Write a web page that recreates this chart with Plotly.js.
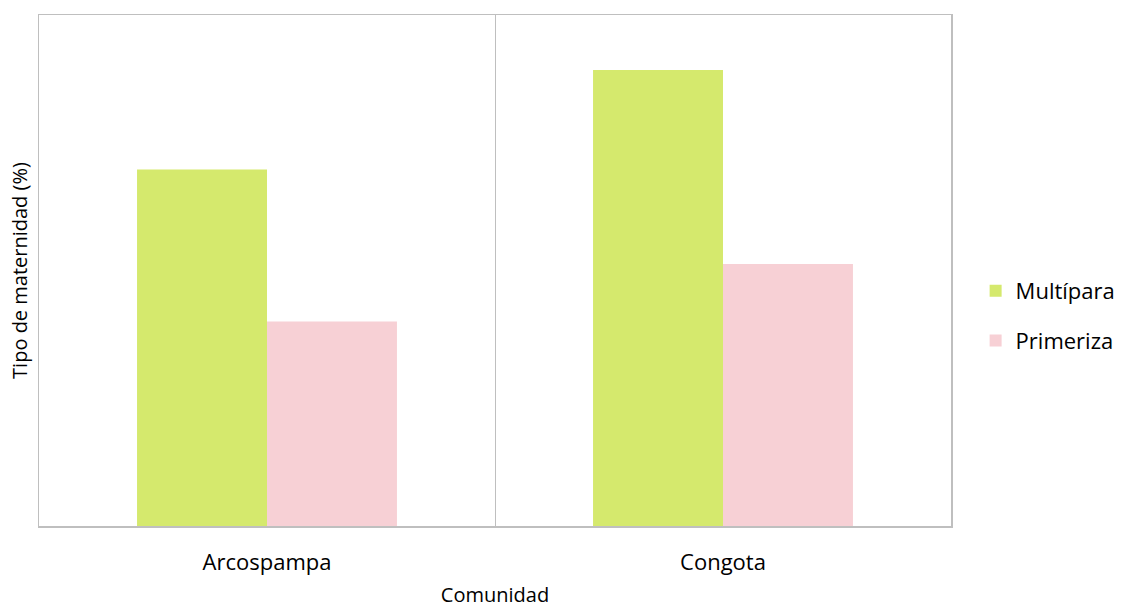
<!DOCTYPE html>
<html>
<head>
<meta charset="utf-8">
<script src="https://cdn.plot.ly/plotly-3.0.1.min.js"></script>
<style>
  html, body { margin: 0; padding: 0; background: #ffffff; }
  #chart { width: 1123px; height: 608px; }
</style>
</head>
<body>
<div id="chart"></div>
<script>
// Communities on the x axis
const comunidades = ['Arcospampa', 'Congota'];

// Share of mothers (%) by maternity type
const multipara = [27.9, 35.7];
const primeriza = [16.0, 20.5];

const FONT = 'Open Sans, Noto Sans, Liberation Sans, sans-serif';
const GRID = '#bfbfbf';

const traces = [
  {
    type: 'bar',
    name: 'Multípara',
    x: comunidades,
    y: multipara,
    marker: { color: '#d5e96d' },
    legendgroup: 'm',
    hoverinfo: 'x+y+name'
  },
  {
    type: 'bar',
    name: 'Primeriza',
    x: comunidades,
    y: primeriza,
    marker: { color: '#f7d0d5' },
    legendgroup: 'p',
    hoverinfo: 'x+y+name'
  }
];

const layout = {
  width: 1123,
  height: 608,
  margin: { l: 39, r: 172, t: 15, b: 82, autoexpand: false },
  paper_bgcolor: '#ffffff',
  plot_bgcolor: '#ffffff',
  font: { family: FONT, color: '#000000' },
  barmode: 'group',
  bargap: 0.43,
  bargroupgap: 0,
  showlegend: true,
  legend: {
    x: 1.027,
    xanchor: 'left',
    y: 0.411,
    yanchor: 'middle',
    bgcolor: 'rgba(0,0,0,0)',
    font: { family: FONT, size: 22, color: '#000000' },
    tracegroupgap: 18,
    traceorder: 'grouped',
    itemwidth: 30
  },
  xaxis: {
    type: 'category',
    showline: true,
    linecolor: GRID,
    linewidth: 1.5,
    mirror: true,
    showgrid: true,
    gridcolor: GRID,
    gridwidth: 1,
    tickson: 'boundaries',
    ticks: '',
    ticklabelstandoff: 16,
    tickfont: { family: FONT, size: 22, color: '#000000' },
    title: {
      text: 'Comunidad',
      font: { family: FONT, size: 20, color: '#000000' },
      standoff: 17
    },
    automargin: true
  },
  yaxis: {
    range: [0, 40],
    showline: true,
    linecolor: GRID,
    linewidth: 1.5,
    mirror: true,
    showgrid: false,
    zeroline: false,
    showticklabels: false,
    ticks: '',
    title: {
      text: 'Tipo de maternidad (%)',
      font: { family: FONT, size: 20, color: '#000000' },
      standoff: 4
    },
    automargin: false
  }
};

Plotly.newPlot('chart', traces, layout, { displayModeBar: false, staticPlot: true });
</script>
</body>
</html>
